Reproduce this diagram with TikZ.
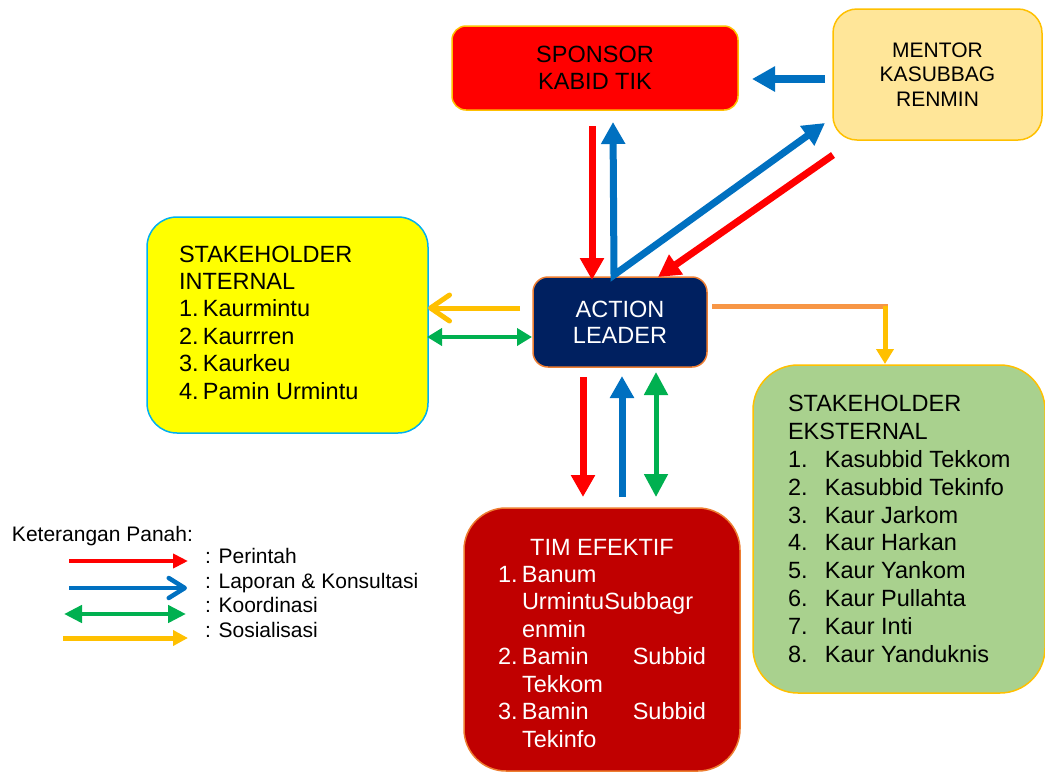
\documentclass[tikz,border=0pt]{standalone}
\usepackage{fontspec}
\setmainfont{Liberation Sans}
\usetikzlibrary{arrows.meta,calc}

\definecolor{cRed}{HTML}{FF0000}
\definecolor{cBlue}{HTML}{0070C0}
\definecolor{cGreen}{HTML}{00B050}
\definecolor{cGold}{HTML}{FFC000}
\definecolor{cOrange}{HTML}{F79646}
\definecolor{cNavy}{HTML}{002060}
\definecolor{cDarkRed}{HTML}{C00000}
\definecolor{cPeach}{HTML}{ED7D31}
\definecolor{cSky}{HTML}{00B0F0}
\definecolor{cCream}{HTML}{FFE699}
\definecolor{cSage}{HTML}{A9D18E}
\definecolor{cYellow}{HTML}{FFFF00}

\newcommand\boxfont{\fontsize{23.5}{27.4}\selectfont}
\newcommand\mentorfont{\fontsize{21}{24.5}\selectfont}
\newcommand\legendfont{\fontsize{21}{24.7}\selectfont}

\begin{document}
\begin{tikzpicture}[x=1pt,y=-1pt,
  panel/.style={draw, line width=1.5pt, inner sep=0pt, outer sep=0pt, align=center},
  txt/.style={inner sep=0pt, outer sep=0pt, align=left},
  redA/.style={draw=cRed, line width=7pt, -{Triangle[length=22pt,width=23pt]}},
  blueA/.style={draw=cBlue, line width=7pt, -{Triangle[length=22pt,width=23pt]}},
  greenA/.style={draw=cGreen, line width=5pt, {Triangle[length=23pt,width=23pt]}-{Triangle[length=23pt,width=23pt]}},
  greenS/.style={draw=cGreen, line width=4.5pt, {Triangle[length=15pt,width=17pt]}-{Triangle[length=15pt,width=17pt]}},
  goldOpen/.style={draw=cGold, line width=5pt, -{Straight Barb[length=19pt,width=26pt,round]}},
  goldA/.style={draw=cGold, line width=5pt, -{Triangle[length=15pt,width=17pt]}},
]
\useasboundingbox (0,0) rectangle (1045,772);

% ---- boxes ----
\node[panel, fill=cRed, draw=cGold, rounded corners=14pt,
      minimum width=286pt, minimum height=84pt, font=\boxfont]
      (sponsor) at (595,68) {SPONSOR\\KABID TIK};
\node[panel, fill=cCream, draw=cGold, rounded corners=24pt,
      minimum width=209pt, minimum height=131pt, font=\mentorfont]
      (mentor) at (937.5,74.5) {MENTOR\\KASUBBAG\\RENMIN};
\node[panel, fill=cNavy, draw=cPeach, rounded corners=15pt, text=white,
      minimum width=174pt, minimum height=90pt, font=\fontsize{23.5}{26}\selectfont]
      (leader) at (620,322) {ACTION\\LEADER};
\node[panel, fill=cYellow, draw=cSky, rounded corners=30pt,
      minimum width=281pt, minimum height=216pt]
      (internal) at (287.5,325) {};
\node[panel, fill=cDarkRed, draw=cPeach, rounded corners=42pt,
      minimum width=276pt, minimum height=263pt]
      (tim) at (602,639.5) {};
\node[panel, fill=cSage, draw=cGold, rounded corners=45pt,
      minimum width=292pt, minimum height=328pt]
      (eksternal) at (899,529) {};

% ---- box contents ----
% (ragged nodes sit on the baseline of their last line,
%  the fixed-width list on the baseline of its first line)
\node[txt, anchor=base west, font=\boxfont] (inttext) at (179,399)
  {STAKEHOLDER\\INTERNAL\\
   \makebox[24pt][l]{1.}Kaurmintu\\
   \makebox[24pt][l]{2.}Kaurrren\\
   \makebox[24pt][l]{3.}Kaurkeu\\
   \makebox[24pt][l]{4.}Pamin Urmintu};

\node[txt, anchor=base west, font=\fontsize{23.5}{27.8}\selectfont] (ekstext) at (788,662)
  {STAKEHOLDER\\EKSTERNAL\\
   \makebox[37pt][l]{1.}Kasubbid Tekkom\\
   \makebox[37pt][l]{2.}Kasubbid Tekinfo\\
   \makebox[37pt][l]{3.}Kaur Jarkom\\
   \makebox[37pt][l]{4.}Kaur Harkan\\
   \makebox[37pt][l]{5.}Kaur Yankom\\
   \makebox[37pt][l]{6.}Kaur Pullahta\\
   \makebox[37pt][l]{7.}Kaur Inti\\
   \makebox[37pt][l]{8.}Kaur Yanduknis};

\node[txt, anchor=base, font=\boxfont, text=white] (timtitle) at (602,555) {TIM EFEKTIF};
\node[txt, anchor=base west, font=\fontsize{23.5}{27.5}\selectfont, text=white,
      text width=208pt] (timlist) at (498,582)
  {\makebox[24pt][l]{1.}Banum\\
   \hspace*{24pt}UrmintuSubbagr\\
   \hspace*{24pt}enmin\\
   \makebox[24pt][l]{2.}Bamin\hfill Subbid\\
   \hspace*{24pt}Tekkom\\
   \makebox[24pt][l]{3.}Bamin\hfill Subbid\\
   \hspace*{24pt}Tekinfo};

% ---- connectors around the sponsor and the mentor ----
\draw[redA] ($(sponsor.south)+(-3,16)$) -- ($(leader.north)+(-28,3)$);
\draw[draw=cBlue, line width=7pt, line join=miter,
      {Triangle[length=22pt,width=23pt]}-{Triangle[length=22pt,width=23pt]}]
      ($(sponsor.south)+(18,12)$) -- ($(leader.north)+(-6,-2)$)
      -- ($(mentor.south west)+(-8,-17)$);
\draw[redA] ($(mentor.south west)+(0,15)$) -- ($(leader.north)+(38,0)$);
\draw[draw=cBlue, line width=8pt, -{Triangle[length=23pt,width=24pt]}]
      ($(mentor.west)+(-8,4.5)$) -- ($(sponsor.east)+(14,11)$);

% ---- connectors to the internal stakeholders ----
\draw[goldOpen] ($(leader.west)+(-13,-14)$) -- ($(internal.east)+(0,-17)$);
\draw[greenS] ($(internal.east)+(-1,12)$) -- ($(leader.west)+(-1,15)$);

% ---- connector to the external stakeholders ----
\coordinate (bend) at (885,306);
\draw[draw=cOrange, line width=5pt] ($(leader.east)+(5,-16)$) -- ($(bend)+(2.5,0)$);
\draw[goldA] (bend) -- ($(eksternal.north)+(-14,-1)$);

% ---- connectors to the team ----
\draw[redA] ($(leader.south)+(-37,10)$) -- ($(tim.north)+(-19,-11)$);
\draw[blueA] ($(tim.north)+(20,-11)$) -- ($(leader.south)+(2,9)$);
\draw[greenA] ($(leader.south)+(36,5)$) -- ($(tim.north)+(54,-11)$);

% ---- legend ----
\node[txt, anchor=base west, font=\legendfont] (legtitle) at (12,541) {Keterangan Panah:};
\node[txt, anchor=base west, font=\legendfont] (leg1) at (205,563) {: Perintah};
\node[txt, anchor=base west, font=\legendfont] (leg2) at (205,588) {: Laporan \& Konsultasi};
\node[txt, anchor=base west, font=\legendfont] (leg3) at (205,612) {: Koordinasi};
\node[txt, anchor=base west, font=\legendfont] (leg4) at (205,637) {: Sosialisasi};

\draw[draw=cRed, line width=4.5pt, -{Triangle[length=15pt,width=14pt]}]
      ($(leg1.base west)+(-136,-2)$) -- ($(leg1.base west)+(-17,-2)$);
\draw[draw=cBlue, line width=4.5pt, -{Straight Barb[length=16pt,width=20pt,round]}]
      ($(leg2.base west)+(-136,0)$) -- ($(leg2.base west)+(-18,0)$);
\draw[draw=cGreen, line width=4.5pt,
      {Triangle[length=18pt,width=17pt]}-{Triangle[length=18pt,width=17pt]}]
      ($(leg3.base west)+(-141,2)$) -- ($(leg3.base west)+(-19,2)$);
\draw[draw=cGold, line width=5pt, -{Triangle[length=15pt,width=15pt]}]
      ($(leg4.base west)+(-142,1)$) -- ($(leg4.base west)+(-17,1)$);
\end{tikzpicture}
\end{document}
